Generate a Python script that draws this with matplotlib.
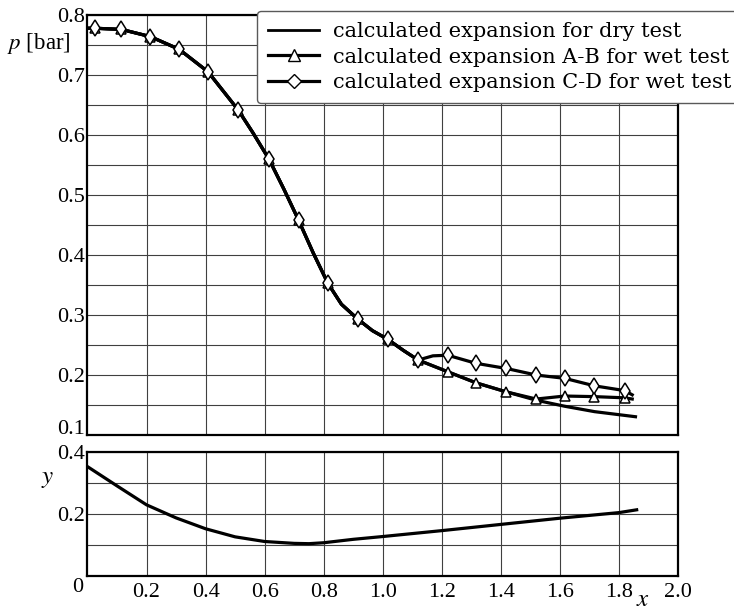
import matplotlib
matplotlib.use("Agg")
import matplotlib.pyplot as plt
from matplotlib.lines import Line2D

plt.rcParams['font.family'] = ['Liberation Serif', 'DejaVu Serif']
plt.rcParams['mathtext.fontset'] = 'stix'

# pressure along the nozzle, calculated expansion for dry test
dry_x = [0.0, 0.025, 0.115, 0.213, 0.31, 0.408, 0.51, 0.56, 0.615, 0.665, 0.715, 0.765,
         0.814, 0.86, 0.916, 0.965, 1.017, 1.07, 1.12, 1.22, 1.316, 1.418, 1.52, 1.616,
         1.717, 1.856]
dry_p = [0.778, 0.778, 0.776, 0.764, 0.743, 0.7055, 0.642, 0.604, 0.5595, 0.51, 0.458, 0.403,
         0.353, 0.318, 0.293, 0.274, 0.2595, 0.241, 0.225, 0.2055, 0.187, 0.172, 0.158, 0.148,
         0.139, 0.1305]

# wet test, expansion A-B (follows dry curve up to x ~ 1.52)
ab_x = [0.0, 0.025, 0.115, 0.213, 0.31, 0.408, 0.51, 0.56, 0.615, 0.665, 0.715, 0.765,
        0.814, 0.86, 0.916, 0.965, 1.017, 1.07, 1.12, 1.22, 1.316, 1.418, 1.52, 1.616,
        1.717, 1.82, 1.845]
ab_p = [0.778, 0.778, 0.776, 0.764, 0.743, 0.7055, 0.642, 0.604, 0.5595, 0.51, 0.458, 0.403,
        0.353, 0.318, 0.293, 0.274, 0.2595, 0.241, 0.225, 0.2055, 0.187, 0.172, 0.160, 0.165,
        0.164, 0.162, 0.160]
ab_mark_x = [0.025, 0.115, 0.213, 0.31, 0.408, 0.51, 0.615, 0.715, 0.814, 0.916, 1.017, 1.12,
             1.22, 1.316, 1.418, 1.52, 1.616, 1.717, 1.82]
ab_mark_p = [0.778, 0.776, 0.764, 0.743, 0.7055, 0.642, 0.5595, 0.458, 0.353, 0.293, 0.2595, 0.225,
             0.2055, 0.187, 0.172, 0.160, 0.165, 0.164, 0.162]

# wet test, expansion C-D
cd_x = [0.0, 0.025, 0.115, 0.213, 0.31, 0.408, 0.51, 0.56, 0.615, 0.665, 0.715, 0.765,
        0.814, 0.86, 0.916, 0.965, 1.017, 1.07, 1.12, 1.17, 1.22, 1.316, 1.418, 1.52, 1.616,
        1.717, 1.82, 1.845]
cd_p = [0.778, 0.778, 0.776, 0.764, 0.743, 0.7055, 0.642, 0.604, 0.5595, 0.51, 0.458, 0.403,
        0.353, 0.318, 0.293, 0.274, 0.2595, 0.241, 0.225, 0.232, 0.233, 0.2195, 0.211, 0.200,
        0.1945, 0.182, 0.174, 0.167]
cd_mark_x = [0.025, 0.115, 0.213, 0.31, 0.408, 0.51, 0.615, 0.715, 0.814, 0.916, 1.017, 1.12,
             1.22, 1.316, 1.418, 1.52, 1.616, 1.717, 1.82]
cd_mark_p = [0.778, 0.776, 0.764, 0.743, 0.7055, 0.642, 0.5595, 0.458, 0.353, 0.293, 0.2595, 0.225,
             0.233, 0.2195, 0.211, 0.200, 0.1945, 0.182, 0.174]

# wetness y along the nozzle
y_x = [0.0, 0.1, 0.2, 0.3, 0.4, 0.5, 0.6, 0.7, 0.75, 0.8, 0.9, 1.0, 1.2, 1.4, 1.6, 1.8, 1.86]
y_val = [0.352, 0.29, 0.229, 0.187, 0.152, 0.126, 0.111, 0.105, 0.104, 0.107, 0.118, 0.127,
         0.146, 0.166, 0.186, 0.204, 0.213]

p_ticks = [0.1, 0.2, 0.3, 0.4, 0.5, 0.6, 0.7, 0.8]
p_ticklabels = ['', '0.2', '0.3', '0.4', '0.5', '0.6', '0.7', '0.8']   # 0.1 drawn separately
x_ticks = [0.2, 0.4, 0.6, 0.8, 1.0, 1.2, 1.4, 1.6, 1.8, 2.0]

labels = ["calculated expansion for dry test",
          "calculated expansion A-B for wet test",
          "calculated expansion C-D for wet test"]

fig = plt.figure(figsize=(7.34, 6.11), dpi=100)
ax1 = fig.add_axes([0.1192, 0.288, 0.8045, 0.6874])
ax2 = fig.add_axes([0.1192, 0.0573, 0.8045, 0.2034])

lw = 2.3
ax1.plot(dry_x, dry_p, color='black', lw=lw)
ax1.plot(ab_x, ab_p, color='black', lw=lw)
ax1.plot(cd_x, cd_p, color='black', lw=lw)
ax1.plot(ab_mark_x, ab_mark_p, ls='none', marker='^', ms=7, mfc='white', mec='black', mew=1.1)
ax1.plot(cd_mark_x, cd_mark_p, ls='none', marker='d', ms=8, mfc='white', mec='black', mew=1.1)

ax2.plot(y_x, y_val, color='black', lw=lw)

for ax in (ax1, ax2):
    ax.set_xlim(0, 2.0)
    ax.set_xticks(x_ticks)
    ax.grid(True, which='both', color='0.25', lw=0.8)
    ax.tick_params(which='both', length=0, labelsize=16)
    for s in ax.spines.values():
        s.set_linewidth(1.6)

ax1.set_ylim(0.1, 0.8)
ax1.set_yticks(p_ticks, p_ticklabels)
ax1.set_yticks([0.15, 0.25, 0.35, 0.45, 0.55, 0.65, 0.75], minor=True)
ax1.tick_params(axis='x', labelbottom=False)
ax1.tick_params(axis='y', pad=2)

ax2.set_ylim(0, 0.4)
ax2.set_yticks([0.2, 0.4])
ax2.set_yticks([0.1, 0.3], minor=True)
ax2.tick_params(axis='y', pad=2)
ax2.tick_params(axis='x', pad=5)

fig.text(85 / 734, 1 - 429 / 611, "0.1", fontsize=16, ha='right', va='center')
fig.text(78 / 734, 1 - 587 / 611, "0", fontsize=16, ha='center', va='center')
fig.text(7 / 734, 1 - 44 / 611, "$p$ [bar]", fontsize=16.5, ha='left', va='center')
fig.text(48 / 734, 1 - 479 / 611, "$y$", fontsize=18, ha='center', va='center')
fig.text(643 / 734, 1 - 600 / 611, "$x$", fontsize=18, ha='center', va='center')

handles = [Line2D([], [], color='black', lw=2),
           Line2D([], [], color='black', lw=lw, marker='^', ms=8, mfc='white', mec='black'),
           Line2D([], [], color='black', lw=lw, marker='D', ms=7, mfc='white', mec='black')]
leg = fig.legend(handles, labels, loc='upper left',
                 bbox_to_anchor=(256.7 / 734, 1 - 11 / 611), bbox_transform=fig.transFigure,
                 prop={'family': 'DejaVu Serif', 'size': 15}, frameon=True, fancybox=True,
                 edgecolor='0.35', framealpha=1, borderaxespad=0, borderpad=0.55,
                 handlelength=2.45, handletextpad=0.65, labelspacing=0.3)
leg.get_frame().set_linewidth(1.0)

fig.savefig("out.png", dpi=100)
